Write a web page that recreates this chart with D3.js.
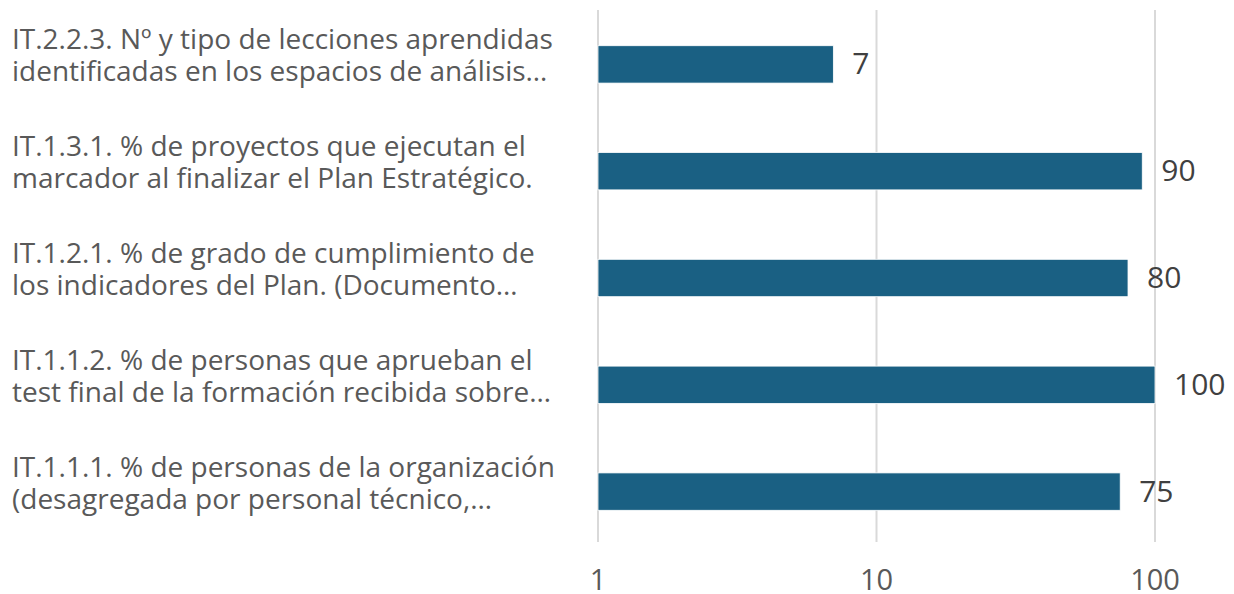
<!DOCTYPE html>
<html>
<head>
<meta charset="utf-8">
<script src="https://cdn.jsdelivr.net/npm/d3@7"></script>
<style>
  html, body { margin: 0; padding: 0; background: #ffffff; }
  svg { display: block; }
  text { font-family: "Open Sans", "Noto Sans", sans-serif; }
</style>
</head>
<body>
<svg id="chart" width="1234" height="594"></svg>
<script>
// Indicator labels (two lines each), top to bottom
const categories = [
  ["IT.2.2.3. Nº y tipo de lecciones aprendidas", "identificadas en los espacios de análisis…"],
  ["IT.1.3.1. % de proyectos que ejecutan el", "marcador al finalizar el Plan Estratégico."],
  ["IT.1.2.1. % de grado de cumplimiento de", "los indicadores del Plan. (Documento…"],
  ["IT.1.1.2. % de personas que aprueban el", "test final de la formación recibida sobre…"],
  ["IT.1.1.1. % de personas de la organización", "(desagregada por personal técnico,…"]
];
const values = [7, 90, 80, 100, 75];
const tickValues = [1, 10, 100];
const tickLabels = ["1", "10", "100"];

const svg = d3.select("#chart");

const x = d3.scaleLog().domain([1, 100]).range([598, 1155]);
const y = d3.scaleBand()
  .domain(d3.range(categories.length))
  .range([11, 545])
  .paddingInner(0.65)
  .paddingOuter(0.325);

// Vertical gridlines
svg.append("g")
  .selectAll("line")
  .data(tickValues)
  .join("line")
  .attr("x1", d => x(d)).attr("x2", d => x(d))
  .attr("y1", 10).attr("y2", 542)
  .attr("stroke", "#d9d9d9")
  .attr("stroke-width", 2);

// Bars
svg.append("g")
  .selectAll("rect")
  .data(values)
  .join("rect")
  .attr("x", x(1))
  .attr("y", (d, i) => y(i))
  .attr("width", d => x(d) - x(1))
  .attr("height", y.bandwidth())
  .attr("fill", "#1a6083")
  .attr("stroke", "#ffffff")
  .attr("stroke-width", 0.8);

// Value labels
svg.append("g")
  .selectAll("text")
  .data(values)
  .join("text")
  .attr("x", d => x(d) + 19)
  .attr("y", (d, i) => y(i) + y.bandwidth() / 2)
  .attr("dy", "0.33em")
  .attr("font-size", 30)
  .attr("fill", "#404040")
  .text(d => d);

// Category labels, one text element per line
const catRows = svg.append("g")
  .selectAll("g")
  .data(categories)
  .join("g");
catRows.each(function (lines, i) {
  const cy = y(i) + y.bandwidth() / 2;
  d3.select(this).selectAll("text")
    .data(lines)
    .join("text")
    .attr("x", 12)
    .attr("y", (l, j) => cy + (j === 0 ? -15 : 17))
    .attr("font-size", 28)
    .attr("fill", "#595959")
    .text(l => l);
});

// X axis tick labels
svg.append("g")
  .selectAll("text")
  .data(tickValues)
  .join("text")
  .attr("x", d => x(d))
  .attr("y", 590)
  .attr("text-anchor", "middle")
  .attr("font-size", 29)
  .attr("fill", "#595959")
  .text((d, i) => tickLabels[i]);
</script>
</body>
</html>
